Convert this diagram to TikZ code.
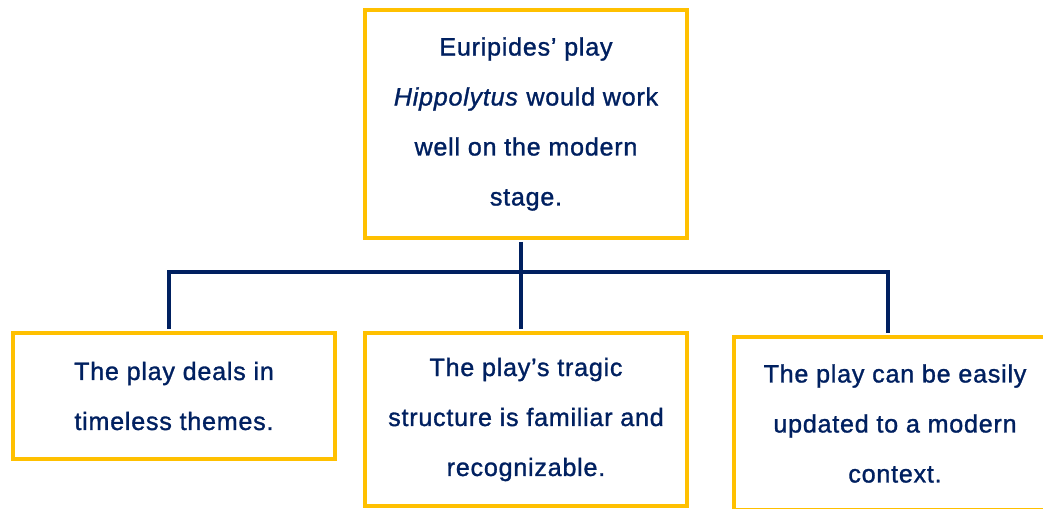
\documentclass[tikz,border=0pt]{standalone}
\usepackage{fontspec}
\setmainfont{Liberation Sans}
\newfontfamily\boxfont{Liberation Sans}[FakeBold=1.2, LetterSpace=3]
\usepackage{tikz}
\definecolor{boxgold}{RGB}{255,192,0}
\definecolor{linknavy}{RGB}{0,32,96}
\tikzset{
	claim/.style={draw=boxgold, line width=2.2pt, fill=white, align=center, inner sep=0pt,
		text=linknavy, font=\boxfont\fontsize{14.3}{28.45}\selectfont, minimum width=6.44cm},
	link/.style={draw=linknavy, line width=2.2pt, shorten >=1.1pt, shorten <=1.1pt}
}

\begin{document}
\begin{tikzpicture}[x=0.02cm,y=-0.02cm]
	\useasboundingbox (0,0) rectangle (1043,509);
	\clip (0,0) rectangle (1043,509);
	
	\node[claim, minimum height=4.56cm] (thesis) at (526,124) {Euripides’ play\\\textit{Hippolytus} would work\\well on the modern\\stage.};
	
	\node[claim, minimum height=2.52cm] (themes) at (174,396) {The play deals in\\timeless themes.};
	\node[claim, minimum height=3.46cm] (tragic) at (526,419.5) {The play’s tragic\\structure is familiar and\\recognizable.};
	\node[claim, minimum height=3.46cm] (update) at (895,423.5) {The play can be easily\\updated to a modern\\context.};
	
	\coordinate (hub) at (521,272);
	\coordinate (busL) at (169,272);
	\coordinate (busR) at (888,272);
	
	\draw[link] (thesis.south -| hub) -- (tragic.north -| hub);
	\draw[link] (themes.north -| busL) -- (busL) -- (busR) -- (update.north -| busR);
	
\end{tikzpicture}
\end{document}
